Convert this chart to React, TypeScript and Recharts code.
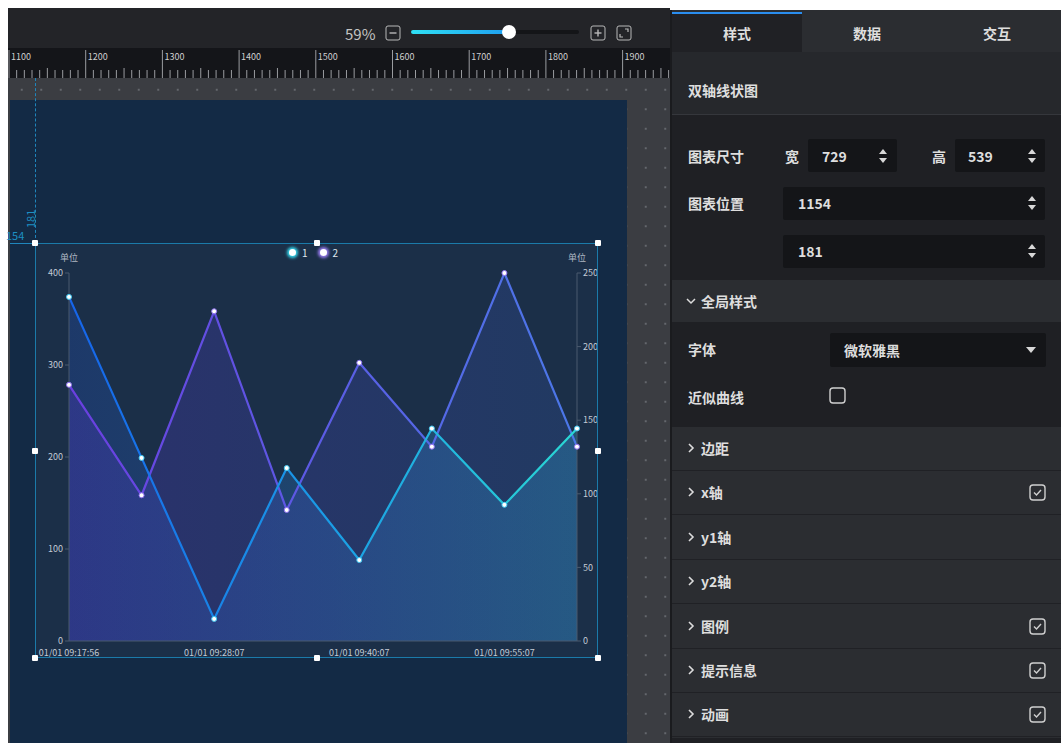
import React from "react";
import { ComposedChart, Area, Line, XAxis, YAxis, Legend } from "recharts";

// values (8 samples, every other time label shown)
const categories = [
  "01/01 09:17:56", "01/01 09:22:41", "01/01 09:28:07", "01/01 09:33:52",
  "01/01 09:40:07", "01/01 09:47:30", "01/01 09:55:07", "01/01 10:01:12",
];
const series1 = [374, 199, 24, 188, 88, 231, 148, 231]; // y1 (left)
const series2 = [174, 99, 224, 89, 189, 132, 250, 132]; // y2 (right)
const leftTicks = [0, 100, 200, 300, 400];
const rightTicks = [0, 50, 100, 150, 200, 250];
const legendItems = [
  { name: "1", color: "#35d8ee" },
  { name: "2", color: "#9b7df2" },
];
const rulerLabels = [1100, 1200, 1300, 1400, 1500, 1600, 1700, 1800, 1900];
const tabs = ["样式", "数据", "交互"];
const menuRows = [
  { label: "边距", checked: false },
  { label: "x轴", checked: true },
  { label: "y1轴", checked: false },
  { label: "y2轴", checked: false },
  { label: "图例", checked: true },
  { label: "提示信息", checked: true },
  { label: "动画", checked: true },
];

const FONT = '"Noto Sans CJK SC", "Microsoft YaHei", sans-serif';
const TICK = "#c3cbd6";

const data = categories.map((t, i) => ({ time: t, s1: series1[i], s2: series2[i] }));

const abs = (l: number, t: number, w: number, h: number, extra: React.CSSProperties = {}): React.CSSProperties => ({
  position: "absolute", left: l, top: t, width: w, height: h, ...extra,
});

function Spinner({ x, y }: { x: number; y: number }) {
  return (
    <svg style={abs(x - 5, y - 8, 10, 16)} viewBox="0 0 10 16">
      <path d="M1 6 L5 1 L9 6 Z" fill="#d8d8d8" />
      <path d="M1 10 L5 15 L9 10 Z" fill="#d8d8d8" />
    </svg>
  );
}

function Check({ x, y, on }: { x: number; y: number; on: boolean }) {
  return (
    <svg style={abs(x, y, 17, 17)} viewBox="0 0 17 17">
      <rect x="1" y="1" width="15" height="15" rx="3" fill="none" stroke="#cfcfcf" strokeWidth="1.4" />
      {on && <path d="M5 8.5 L7.5 11 L12 6" fill="none" stroke="#cfcfcf" strokeWidth="1.4" />}
    </svg>
  );
}

function Chevron({ x, y, down }: { x: number; y: number; down?: boolean }) {
  return (
    <svg style={abs(x, y - 6, 10, 12)} viewBox="0 0 10 12">
      {down
        ? <path d="M1 4 L5 8 L9 4" fill="none" stroke="#dcdcdc" strokeWidth="1.5" />
        : <path d="M3 2 L7 6 L3 10" fill="none" stroke="#dcdcdc" strokeWidth="1.6" />}
    </svg>
  );
}

function Ruler() {
  const step = 76.7;
  const x0 = 9;
  const minors: number[] = [];
  for (let i = 0; i < 90; i++) minors.push(x0 + (i * step) / 10);
  return (
    <svg style={abs(8, 48, 662, 30)} width={662} height={30}>
      <rect width={662} height={30} fill="#141519" />
      {minors.map((mx, i) => (
        <line key={i} x1={mx - 8} x2={mx - 8} y1={i % 10 === 0 ? 2 : i % 5 === 0 ? 20 : 22} y2={30} stroke="#9a9ca0" strokeWidth={1} />
      ))}
      {rulerLabels.map((v, i) => (
        <text key={v} x={x0 + i * step - 6} y={12} fontSize={9} fill="#cfcfcf" fontFamily={FONT}>{v}</text>
      ))}
    </svg>
  );
}

function ChartLegend() {
  return (
    <div style={{ display: "flex", justifyContent: "center", alignItems: "center", gap: 6, fontFamily: FONT, fontSize: 10, color: "#dfe6ee" }}>
      {legendItems.map((it) => (
        <span key={it.name} style={{ display: "flex", alignItems: "center", gap: 6, marginRight: 6 }}>
          <span style={{ width: 7, height: 7, borderRadius: 4, background: "#fff", boxShadow: `0 0 3px 2px ${it.color}` }} />
          {it.name}
        </span>
      ))}
    </div>
  );
}

function DualLineChart() {
  return (
    <ComposedChart width={563} height={415} data={data} margin={{ top: 30, right: 0, bottom: 0, left: 0 }}
      style={{ overflow: "visible" }}>
      <defs>
        <linearGradient id="line1" x1="0" y1="0" x2="1" y2="0">
          <stop offset="0%" stopColor="#1664ea" />
          <stop offset="50%" stopColor="#1a9be6" />
          <stop offset="100%" stopColor="#2ad8d4" />
        </linearGradient>
        <linearGradient id="line2" x1="0" y1="0" x2="1" y2="0">
          <stop offset="0%" stopColor="#6b3fe0" />
          <stop offset="100%" stopColor="#4b78e8" />
        </linearGradient>
        <linearGradient id="area1" x1="0" y1="0" x2="1" y2="0">
          <stop offset="0%" stopColor="#2456c8" stopOpacity={0.26} />
          <stop offset="100%" stopColor="#2aa0c0" stopOpacity={0.34} />
        </linearGradient>
        <linearGradient id="area2" x1="0" y1="0" x2="1" y2="0">
          <stop offset="0%" stopColor="#5a35d8" stopOpacity={0.26} />
          <stop offset="100%" stopColor="#3f6ad8" stopOpacity={0.18} />
        </linearGradient>
      </defs>
      <Legend verticalAlign="middle" align="center" layout="horizontal" content={() => <ChartLegend />}
        wrapperStyle={{ top: 2, left: 0, width: 563 }} />
      <XAxis dataKey="time" interval={1} height={17} tickLine={false} tickMargin={3}
        axisLine={{ stroke: "#4a5a6e" }} tick={{ fill: TICK, fontSize: 9, fontFamily: FONT }} />
      <YAxis yAxisId="l" width={34} domain={[0, 400]} ticks={leftTicks} tickSize={4} tickMargin={2}
        axisLine={{ stroke: "#4a5a6e" }} tickLine={{ stroke: "#4a5a6e" }}
        tick={{ fill: TICK, fontSize: 9, fontFamily: FONT }}
        label={(p: any) => (
          <text x={p.viewBox.x + p.viewBox.width} y={p.viewBox.y - 12} textAnchor="middle" fontSize={9} fill="#aeb7c3" fontFamily={FONT}>单位</text>
        )} />
      <YAxis yAxisId="r" orientation="right" width={21} domain={[0, 250]} ticks={rightTicks} tickSize={4} tickMargin={2}
        axisLine={{ stroke: "#4a5a6e" }} tickLine={{ stroke: "#4a5a6e" }}
        tick={{ fill: TICK, fontSize: 9, fontFamily: FONT }}
        label={(p: any) => (
          <text x={p.viewBox.x} y={p.viewBox.y - 12} textAnchor="middle" fontSize={9} fill="#aeb7c3" fontFamily={FONT}>单位</text>
        )} />
      <Area yAxisId="l" type="linear" dataKey="s1" stroke="none" fill="url(#area1)" fillOpacity={1} isAnimationActive={false} legendType="none" />
      <Area yAxisId="r" type="linear" dataKey="s2" stroke="none" fill="url(#area2)" fillOpacity={1} isAnimationActive={false} legendType="none" />
      <Line yAxisId="r" type="linear" dataKey="s2" name="2" stroke="url(#line2)" strokeWidth={2.2}
        dot={{ r: 2.5, fill: "#fff", stroke: "#8d70ee", strokeWidth: 1 }} isAnimationActive={false} />
      <Line yAxisId="l" type="linear" dataKey="s1" name="1" stroke="url(#line1)" strokeWidth={2.2}
        dot={{ r: 2.5, fill: "#fff", stroke: "#3fc7f0", strokeWidth: 1 }} isAnimationActive={false} />
    </ComposedChart>
  );
}

export default function App() {
  const box = { l: 35, t: 243, r: 598, b: 658 };
  const mx = (box.l + box.r) / 2;
  const my = (box.t + box.b) / 2;
  const handles = [
    [box.l, box.t], [mx, box.t], [box.r, box.t],
    [box.l, my], [box.r, my],
    [box.l, box.b], [mx, box.b], [box.r, box.b],
  ];
  const txt: React.CSSProperties = { fontFamily: FONT, fontSize: 14, fontWeight: 700, color: "#dedede", whiteSpace: "nowrap", lineHeight: "18px" };
  const input = (l: number, t: number, w: number) => abs(l, t, w, 33, { background: "#141518", borderRadius: 2 });

  return (
    <div style={{ position: "fixed", left: 0, top: 0, width: 1061, height: 743, background: "#fff", overflow: "hidden", fontFamily: FONT }}>
      {/* toolbar */}
      <div style={abs(8, 8, 662, 40, { background: "#232428" })} />
      <div style={abs(345, 23, 40, 20, { fontSize: 15, color: "#c4c4c4", fontFamily: FONT })}>59%</div>
      <svg style={abs(385, 25, 16, 16)} viewBox="0 0 16 16">
        <rect x="1" y="1" width="14" height="14" rx="2" fill="none" stroke="#b8b8b8" />
        <line x1="4.5" x2="11.5" y1="8" y2="8" stroke="#b8b8b8" strokeWidth="1.4" />
      </svg>
      <div style={abs(411, 30, 168, 4, { background: "#141518", borderRadius: 2 })} />
      <div style={abs(411, 30, 98, 4, { background: "linear-gradient(90deg,#2fe0f4,#1f9ff0)", borderRadius: 2 })} />
      <div style={abs(502, 25, 14, 14, { background: "#fff", borderRadius: 7 })} />
      <svg style={abs(590, 25, 16, 16)} viewBox="0 0 16 16">
        <rect x="1" y="1" width="14" height="14" rx="2" fill="none" stroke="#b8b8b8" />
        <line x1="4.5" x2="11.5" y1="8" y2="8" stroke="#b8b8b8" strokeWidth="1.4" />
        <line y1="4.5" y2="11.5" x1="8" x2="8" stroke="#b8b8b8" strokeWidth="1.4" />
      </svg>
      <svg style={abs(616, 25, 16, 16)} viewBox="0 0 16 16">
        <rect x="1" y="1" width="14" height="14" rx="2" fill="none" stroke="#b8b8b8" />
        <path d="M9 4 L12 4 L12 7 M4 9 L4 12 L7 12" fill="none" stroke="#b8b8b8" strokeWidth="1.2" />
      </svg>

      <Ruler />

      {/* canvas */}
      <div style={abs(8, 78, 662, 665, {
        background: "#3b3d42",
        backgroundImage: "radial-gradient(circle, #64676d 1px, transparent 1.3px)",
        backgroundSize: "19.5px 19.5px", backgroundPosition: "4px 2px",
      })} />
      <div style={abs(10, 100, 617, 643, { background: "#132a45" })} />

      {/* guides */}
      <div style={abs(35, 78, 0, 165, { borderLeft: "1px dashed #1f86bd" })} />
      <div style={abs(10, 243, 25, 0, { borderTop: "1px solid #1f86bd" })} />
      <div style={abs(18, 210, 24, 12, { color: "#1d8fc4", fontSize: 11, transform: "rotate(-90deg)", lineHeight: "12px" })}>181</div>
      <div style={abs(6, 229, 24, 12, { color: "#1d8fc4", fontSize: 11, lineHeight: "12px" })}>154</div>

      {/* chart component */}
      <div style={abs(box.l, box.t, box.r - box.l, box.b - box.t, { background: "#1b2f48" })}>
        <DualLineChart />
      </div>
      <div style={abs(box.l, box.t, box.r - box.l, box.b - box.t, { border: "1px solid #1b7aa9", boxSizing: "border-box", pointerEvents: "none" })} />
      {handles.map(([hx, hy], i) => (
        <div key={i} style={abs(hx - 3, hy - 3, 6, 6, { background: "#fff", borderRadius: 1 })} />
      ))}

      {/* right panel */}
      <div style={abs(670, 10, 391, 733, { background: "#2b2d31", borderLeft: "2px solid #1a1b1e", boxSizing: "border-box" })} />
      {tabs.map((t, i) => (
        <div key={t} style={abs(672 + i * 130, 12, 130, 40, {
          background: i === 0 ? "#202125" : "#2b2d31", borderTop: i === 0 ? "2px solid #2a8ef0" : "2px solid transparent",
          boxSizing: "border-box", display: "flex", alignItems: "center", justifyContent: "center", ...txt,
        })}>{t}</div>
      ))}
      <div style={abs(672, 52, 389, 63, { background: "#26282c", borderBottom: "1px solid #35373c", boxSizing: "border-box" })} />
      <div style={abs(688, 81, 120, 18, txt)}>双轴线状图</div>
      <div style={abs(672, 115, 389, 165, { background: "#1f2024" })} />
      <div style={abs(688, 147, 80, 18, txt)}>图表尺寸</div>
      <div style={abs(785, 147, 20, 18, txt)}>宽</div>
      <div style={input(808, 139, 89)} />
      <div style={abs(822, 147, 40, 18, txt)}>729</div>
      <Spinner x={883} y={156} />
      <div style={abs(932, 147, 20, 18, txt)}>高</div>
      <div style={input(955, 139, 90)} />
      <div style={abs(968, 147, 40, 18, txt)}>539</div>
      <Spinner x={1032} y={156} />
      <div style={abs(688, 194, 80, 18, txt)}>图表位置</div>
      <div style={input(783, 187, 262)} />
      <div style={abs(798, 194, 60, 18, txt)}>1154</div>
      <Spinner x={1032} y={203} />
      <div style={input(783, 235, 262)} />
      <div style={abs(798, 242, 60, 18, txt)}>181</div>
      <Spinner x={1032} y={251} />

      <div style={abs(672, 280, 389, 42, { background: "#2b2d31" })} />
      <Chevron x={686} y={301} down />
      <div style={abs(701, 292, 100, 18, txt)}>全局样式</div>
      <div style={abs(672, 322, 389, 105, { background: "#1f2024" })} />
      <div style={abs(688, 340, 60, 18, txt)}>字体</div>
      <div style={abs(830, 333, 216, 34, { background: "#141518", borderRadius: 2 })} />
      <div style={abs(844, 341, 100, 18, txt)}>微软雅黑</div>
      <svg style={abs(1025, 346, 12, 8)} viewBox="0 0 12 8"><path d="M1 1 L11 1 L6 7 Z" fill="#d8d8d8" /></svg>
      <div style={abs(688, 388, 80, 18, txt)}>近似曲线</div>
      <svg style={abs(829, 387, 17, 17)} viewBox="0 0 17 17">
        <rect x="1" y="1" width="15" height="15" rx="3" fill="none" stroke="#cfcfcf" strokeWidth="1.4" />
      </svg>

      {menuRows.map((row, i) => {
        const top = 427 + i * 44.4;
        return (
          <React.Fragment key={row.label}>
            <div style={abs(672, top, 389, 44, { background: "#2b2d31", borderBottom: "1.5px solid #202125", boxSizing: "border-box" })} />
            <Chevron x={686} y={top + 21} />
            <div style={abs(701, top + 12, 120, 18, txt)}>{row.label}</div>
            {row.checked && <Check x={1029} y={top + 13} on />}
          </React.Fragment>
        );
      })}
      <div style={abs(672, 738, 389, 5, { background: "#1f2024" })} />
    </div>
  );
}
